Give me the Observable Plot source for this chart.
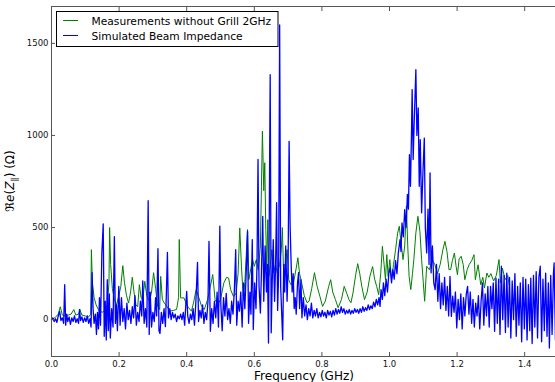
<!DOCTYPE html>
<html><head><meta charset="utf-8">
<script src="https://cdn.jsdelivr.net/npm/d3@7"></script>
<script src="https://cdn.jsdelivr.net/npm/@observablehq/plot@0.6"></script>
<style>html,body{margin:0;padding:0;background:#fff;overflow:hidden}</style>
</head><body><div id="chart"></div>
<script>
const seriesNames = ["Measurements without Grill 2GHz", "Simulated Beam Impedance"];
const seriesColors = ["#008000", "#0000ff"];
const xTicks = [0, 0.2, 0.4, 0.6, 0.8, 1.0, 1.2, 1.4];
const yTicks = [0, 500, 1000, 1500];
const xLabel = "Frequency (GHz)";

// [frequency GHz, Re(Z) Ohm]
const measured = [
[0.000,0],[0.010,10],[0.020,30],[0.026,70],[0.032,25],[0.040,20],[0.050,25],[0.058,30],[0.066,55],[0.072,25],
[0.080,30],[0.084,55],[0.090,25],[0.100,20],[0.110,15],[0.116,30],[0.118,380],[0.121,200],[0.126,120],[0.132,80],
[0.140,50],[0.150,40],[0.158,50],[0.165,80],[0.170,200],[0.172,500],[0.175,300],[0.180,170],[0.186,110],[0.192,80],
[0.198,120],[0.205,180],[0.211,293],[0.216,200],[0.222,130],[0.228,90],[0.234,150],[0.239,230],[0.244,150],[0.250,80],
[0.255,70],[0.260,190],[0.265,120],[0.270,110],[0.276,208],[0.282,130],[0.290,100],[0.296,150],[0.302,255],[0.308,170],
[0.314,72],[0.320,55],[0.323,235],[0.328,109],[0.334,90],[0.342,70],[0.350,46],[0.360,50],[0.370,55],[0.376,120],
[0.378,435],[0.382,118],[0.392,118],[0.400,80],[0.406,64],[0.414,46],[0.420,90],[0.428,163],[0.436,120],[0.444,72],
[0.452,55],[0.462,110],[0.470,180],[0.477,245],[0.484,109],[0.492,80],[0.500,110],[0.510,200],[0.518,230],[0.524,226],
[0.530,163],[0.538,127],[0.546,140],[0.552,250],[0.557,498],[0.562,290],[0.567,127],[0.572,200],[0.580,489],[0.584,218],
[0.590,280],[0.595,326],[0.600,290],[0.606,326],[0.612,270],[0.618,400],[0.624,1023],[0.628,700],[0.631,852],[0.634,489],
[0.637,272],[0.640,543],[0.643,235],[0.648,300],[0.652,380],[0.657,255],[0.663,300],[0.668,250],[0.675,300],[0.680,380],
[0.683,500],[0.686,290],[0.692,300],[0.697,380],[0.702,217],[0.708,190],[0.716,200],[0.724,280],[0.729,336],[0.734,250],
[0.740,200],[0.748,130],[0.756,92],[0.762,100],[0.770,170],[0.778,255],[0.786,180],[0.794,127],[0.802,72],[0.810,100],
[0.820,180],[0.826,217],[0.832,150],[0.840,109],[0.848,65],[0.858,110],[0.866,181],[0.874,140],[0.880,109],[0.886,92],
[0.892,145],[0.900,244],[0.906,304],[0.912,250],[0.918,181],[0.926,109],[0.934,150],[0.942,235],[0.950,288],[0.956,220],
[0.962,181],[0.968,136],[0.974,250],[0.979,398],[0.984,300],[0.988,217],[0.992,353],[0.996,235],[1.001,326],[1.006,217],
[1.012,300],[1.018,380],[1.024,470],[1.029,507],[1.034,420],[1.040,326],[1.045,400],[1.050,615],[1.054,400],[1.058,235],
[1.063,163],[1.068,250],[1.072,326],[1.078,471],[1.084,561],[1.090,480],[1.095,326],[1.100,200],[1.104,100],[1.110,290],
[1.118,271],[1.126,326],[1.134,300],[1.142,250],[1.150,300],[1.158,380],[1.164,425],[1.170,370],[1.176,271],[1.181,272],
[1.186,320],[1.192,362],[1.197,290],[1.201,244],[1.206,330],[1.212,344],[1.218,300],[1.223,217],[1.230,272],[1.236,300],
[1.243,320],[1.250,353],[1.254,217],[1.262,298],[1.270,190],[1.276,230],[1.281,172],[1.288,253],[1.294,230],[1.300,250],
[1.308,210],[1.316,240],[1.324,326],[1.328,199],[1.334,280],[1.342,217],[1.350,240],[1.354,190]
];

const simulated = [
[0.000,0],[0.004,10],[0.008,-10],[0.012,5],[0.016,-15],[0.020,20],[0.024,45],[0.028,-5],[0.032,10],[0.036,-20],
[0.039,190],[0.042,-30],[0.045,30],[0.048,-10],[0.052,15],[0.056,-25],[0.060,10],[0.064,-10],[0.068,20],[0.072,-15],
[0.076,5],[0.080,-20],[0.083,55],[0.086,-5],[0.090,15],[0.094,-15],[0.098,10],[0.102,-10],[0.106,20],[0.110,-20],
[0.114,5],[0.117,-40],[0.120,255],[0.123,60],[0.126,-20],[0.130,30],[0.133,-80],[0.136,40],[0.139,-50],[0.142,120],
[0.145,-30],[0.149,360],[0.153,520],[0.156,-90],[0.159,100],[0.162,-110],[0.165,217],[0.168,-60],[0.171,140],[0.174,-100],
[0.178,60],[0.182,-40],[0.186,450],[0.189,-20],[0.192,80],[0.195,-60],[0.199,180],[0.203,-30],[0.207,120],[0.211,-10],
[0.215,60],[0.219,-50],[0.223,90],[0.227,0],[0.231,50],[0.235,-20],[0.239,70],[0.243,10],[0.247,130],[0.251,-30],
[0.255,40],[0.259,-10],[0.263,100],[0.267,20],[0.270,210],[0.274,-20],[0.278,60],[0.282,-40],[0.286,646],[0.289,-80],
[0.292,150],[0.296,-40],[0.300,40],[0.304,-10],[0.308,120],[0.311,20],[0.315,385],[0.318,-60],[0.321,-75],[0.325,40],
[0.329,-20],[0.333,60],[0.337,-38],[0.340,150],[0.343,365],[0.346,10],[0.350,60],[0.354,0],[0.358,40],[0.362,10],
[0.366,30],[0.370,-10],[0.374,20],[0.378,5],[0.382,30],[0.386,0],[0.390,40],[0.394,-30],[0.397,70],[0.400,154],
[0.403,20],[0.407,-20],[0.411,30],[0.415,0],[0.419,60],[0.423,-30],[0.427,90],[0.432,311],[0.435,-10],[0.439,50],
[0.443,10],[0.447,80],[0.451,-20],[0.455,40],[0.459,0],[0.463,100],[0.466,425],[0.470,-63],[0.474,60],[0.478,-20],
[0.482,100],[0.486,10],[0.490,150],[0.494,-40],[0.498,507],[0.501,80],[0.505,-60],[0.509,120],[0.513,20],[0.517,143],
[0.521,0],[0.525,60],[0.529,-20],[0.533,100],[0.537,30],[0.541,160],[0.545,380],[0.548,-30],[0.552,100],[0.556,46],
[0.560,150],[0.564,-40],[0.568,200],[0.572,60],[0.576,255],[0.580,480],[0.583,-20],[0.587,150],[0.590,30],[0.594,435],
[0.597,-54],[0.601,200],[0.605,60],[0.608,300],[0.611,870],[0.614,181],[0.618,36],[0.621,250],[0.625,561],[0.628,100],
[0.632,400],[0.636,150],[0.639,300],[0.642,-127],[0.647,1330],[0.650,-71],[0.653,200],[0.656,435],[0.660,100],[0.663,300],
[0.666,635],[0.669,50],[0.672,250],[0.675,1600],[0.678,180],[0.681,36],[0.684,-109],[0.687,300],[0.690,150],[0.693,400],
[0.697,100],[0.700,300],[0.703,968],[0.706,507],[0.709,300],[0.712,150],[0.715,250],[0.718,60],[0.721,120],[0.724,30],
[0.728,200],[0.731,255],[0.734,60],[0.738,217],[0.741,10],[0.745,120],[0.749,20],[0.753,80],[0.757,0],[0.761,60],
[0.765,20],[0.769,90],[0.773,10],[0.777,50],[0.781,20],[0.785,60],[0.789,10],[0.793,40],[0.797,15],[0.801,50],
[0.805,20],[0.809,40],[0.813,10],[0.817,50],[0.821,25],[0.825,45],[0.829,15],[0.833,50],[0.837,25],[0.841,60],
[0.845,30],[0.849,55],[0.853,35],[0.857,70],[0.861,40],[0.865,60],[0.869,30],[0.873,50],[0.877,35],[0.881,55],
[0.885,30],[0.889,50],[0.893,35],[0.897,60],[0.901,40],[0.905,55],[0.909,35],[0.913,60],[0.917,40],[0.921,70],
[0.925,45],[0.929,65],[0.933,50],[0.937,80],[0.941,55],[0.945,75],[0.949,60],[0.953,95],[0.957,70],[0.961,110],
[0.965,80],[0.969,120],[0.972,72],[0.975,163],[0.979,110],[0.982,200],[0.986,130],[0.990,220],[0.994,150],[0.998,250],
[1.002,282],[1.006,200],[1.010,272],[1.014,220],[1.018,320],[1.022,250],[1.026,360],[1.031,434],[1.034,370],[1.037,525],
[1.041,450],[1.045,597],[1.049,500],[1.053,680],[1.056,600],[1.059,896],[1.062,724],[1.065,1000],[1.067,1249],[1.070,869],
[1.073,1068],[1.078,1357],[1.081,1000],[1.085,1150],[1.088,724],[1.091,977],[1.095,580],[1.099,800],[1.103,986],[1.106,500],
[1.110,362],[1.114,600],[1.117,300],[1.120,797],[1.123,254],[1.127,400],[1.131,200],[1.135,163],[1.139,300],[1.143,100],
[1.147,250],[1.151,60],[1.155,200],[1.159,80],[1.163,230],[1.167,50],[1.171,180],[1.175,20],[1.179,235],[1.183,18],
[1.187,127],[1.191,40],[1.195,150],[1.199,-45],[1.203,110],[1.207,0],[1.211,140],[1.215,-50],[1.219,120],[1.223,20],
[1.227,136],[1.231,181],[1.235,30],[1.239,150],[1.243,-20],[1.247,110],[1.251,-40],[1.255,90],[1.259,20],[1.263,130],
[1.267,-50],[1.271,100],[1.275,200],[1.279,-30],[1.283,140],[1.287,20],[1.291,180],[1.295,-40],[1.299,181],[1.303,60],
[1.307,200],[1.311,-63],[1.315,226],[1.319,-20],[1.323,220],[1.327,-80],[1.331,290],[1.335,0],[1.339,240],[1.343,-70],
[1.347,253],[1.351,-40],[1.355,230],[1.359,-100],[1.363,210],[1.367,0],[1.371,250],[1.375,-90],[1.379,181],[1.383,-30],
[1.387,200],[1.391,-120],[1.395,230],[1.399,-50],[1.403,220],[1.407,-110],[1.411,190],[1.415,-60],[1.418,226],[1.422,-130],
[1.426,240],[1.430,-40],[1.434,260],[1.438,-100],[1.442,230],[1.446,290],[1.450,-120],[1.454,220],[1.458,-60],[1.462,253],
[1.466,-90],[1.470,200],[1.473,-154],[1.477,240],[1.481,-80],[1.485,250],[1.487,308],[1.491,-110],[1.495,220],[1.499,-60]
];

const font = "DejaVu Sans, sans-serif";
const spine = "#555";

const svg = Plot.plot({
  width: 555,
  height: 382,
  marginLeft: 51,
  marginRight: -3,
  marginTop: 6,
  marginBottom: 26,
  style: {fontFamily: font, fontSize: "8.5px", color: "#000", background: "#fff"},
  x: {domain: [0, 1.5], ticks: xTicks},
  y: {domain: [-200, 1700], ticks: yTicks},
  marks: [
    Plot.line(measured, {x: d => d[0], y: d => d[1], stroke: seriesColors[0], strokeWidth: 1}),
    Plot.line(simulated, {x: d => d[0], y: d => d[1], stroke: seriesColors[1], strokeWidth: 1.3}),
    Plot.frame({stroke: spine, strokeWidth: 1}),
    Plot.axisX(xTicks, {anchor: "bottom", tickSize: -4, tickPadding: 8, stroke: spine, fill: "#111", tickFormat: d3.format(".1f"), label: null}),
    Plot.axisX(xTicks, {anchor: "top", tickSize: -4, stroke: spine, tickFormat: () => "", label: null}),
    Plot.axisY(yTicks, {anchor: "left", tickSize: -4, tickPadding: 7, stroke: spine, fill: "#111", tickFormat: d3.format("d"), label: null}),
    Plot.axisY(yTicks, {anchor: "right", tickSize: -4, stroke: spine, tickFormat: () => "", label: null})
  ]
});

const s = d3.select(svg);
// axis titles
s.append("text").attr("x", 304).attr("y", 379.5).attr("text-anchor", "middle")
  .attr("font-family", font).attr("font-size", "12px").attr("fill", "#000").text(xLabel);
const yl = s.append("text").attr("transform", "translate(14,181) rotate(-90)").attr("text-anchor", "middle")
  .attr("font-family", font).attr("font-size", "12px").attr("fill", "#000");
yl.append("tspan").text("\u211C");
yl.append("tspan").attr("font-style", "italic").text("e");
yl.append("tspan").text("(");
yl.append("tspan").attr("font-style", "italic").text("Z");
yl.append("tspan").attr("font-size", "8.5px").attr("dy", "2.5").text("\u2225");
yl.append("tspan").attr("dy", "-2.5").text(") (\u03A9)");

// legend
const lg = s.append("g").attr("text-anchor", "start");
lg.append("rect").attr("x", 56.5).attr("y", 11.5).attr("width", 221.5).attr("height", 35)
  .attr("fill", "#fff").attr("stroke", "#000").attr("stroke-width", 1);
seriesNames.forEach((name, i) => {
  const y = 20.5 + i * 15;
  lg.append("line").attr("x1", 63).attr("x2", 78).attr("y1", y).attr("y2", y)
    .attr("stroke", seriesColors[i]).attr("stroke-width", 1);
  lg.append("text").attr("x", 91.5).attr("y", y + 4).attr("text-anchor", "start").attr("font-family", font)
    .attr("font-size", "10.7px").attr("fill", "#000").text(name);
});

document.getElementById("chart").appendChild(svg);
</script>
</body></html>
